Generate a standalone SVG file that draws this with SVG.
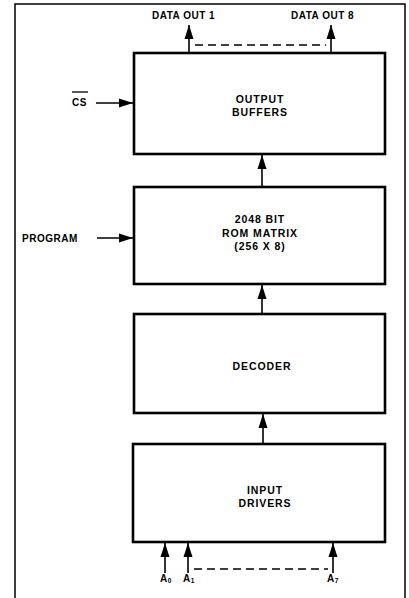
<svg xmlns="http://www.w3.org/2000/svg" width="409" height="598" viewBox="0 0 409 598">
<style>
.box{fill:#fff;stroke:#000;stroke-width:2.6}
.frame{fill:none;stroke:#000;stroke-width:1.5}
.t{font-family:"Liberation Sans",Arial,sans-serif;font-weight:bold;font-size:10.5px;letter-spacing:0.9px;fill:#000;text-anchor:middle}
.l{font-family:"Liberation Sans",Arial,sans-serif;font-weight:bold;font-size:10px;letter-spacing:0.5px;fill:#000}
.w{stroke:#000;stroke-width:1.6;fill:none}
.d{stroke:#000;stroke-width:1.5;fill:none;stroke-dasharray:8,5}
.s{font-size:6.5px;letter-spacing:0}
</style>
<defs>
<marker id="ah" markerWidth="14" markerHeight="10" refX="14" refY="5" orient="auto" markerUnits="userSpaceOnUse">
<path d="M0,0.5 L14,5 L0,9.5 Z" fill="#000"/>
</marker>
</defs>
<rect class="frame" x="15" y="4" width="390" height="600"/>
<g id="output-buffers">
<rect class="box" x="134" y="53" width="251" height="101"/>
<text class="t" x="260" y="103">OUTPUT</text>
<text class="t" x="260" y="116">BUFFERS</text>
</g>
<g id="rom-matrix">
<rect class="box" x="134" y="187" width="251" height="97"/>
<text class="t" x="260" y="223">2048 BIT</text>
<text class="t" x="260" y="237">ROM MATRIX</text>
<text class="t" x="260" y="250">(256 X 8)</text>
</g>
<g id="decoder">
<rect class="box" x="134" y="314" width="251" height="99"/>
<text class="t" x="262" y="370">DECODER</text>
</g>
<g id="input-drivers">
<rect class="box" x="133" y="444" width="252" height="98"/>
<text class="t" x="265" y="494">INPUT</text>
<text class="t" x="265" y="507">DRIVERS</text>
</g>
<g id="labels">
<text class="l" x="152" y="19">DATA OUT 1</text>
<text class="l" x="291" y="19">DATA OUT 8</text>
<text class="l" x="72" y="106">CS</text>
<line x1="72" y1="92" x2="88" y2="92" stroke="#000" stroke-width="1.3"/>
<text class="l" x="22" y="242">PROGRAM</text>
<text class="l" x="160" y="582">A<tspan class="s" dy="1">0</tspan></text>
<text class="l" x="183" y="582">A<tspan class="s" dy="1">1</tspan></text>
<text class="l" x="327" y="582">A<tspan class="s" dy="1">7</tspan></text>
</g>
<g id="connectors">
<line class="w" x1="189" y1="53" x2="189" y2="25" marker-end="url(#ah)"/>
<line class="w" x1="331" y1="53" x2="331" y2="25" marker-end="url(#ah)"/>
<line class="d" x1="195" y1="45" x2="326" y2="45"/>
<line class="w" x1="96" y1="103" x2="133" y2="103" marker-end="url(#ah)"/>
<line class="w" x1="97" y1="238" x2="133" y2="238" marker-end="url(#ah)"/>
<line class="w" x1="262" y1="187" x2="262" y2="155" marker-end="url(#ah)"/>
<line class="w" x1="262" y1="314" x2="262" y2="285" marker-end="url(#ah)"/>
<line class="w" x1="263" y1="444" x2="263" y2="414" marker-end="url(#ah)"/>
<line class="w" x1="165" y1="573" x2="165" y2="543" marker-end="url(#ah)"/>
<line class="w" x1="188" y1="573" x2="188" y2="543" marker-end="url(#ah)"/>
<line class="w" x1="333" y1="573" x2="333" y2="543" marker-end="url(#ah)"/>
<line class="d" x1="194" y1="569" x2="328" y2="569"/>
</g>
</svg>
